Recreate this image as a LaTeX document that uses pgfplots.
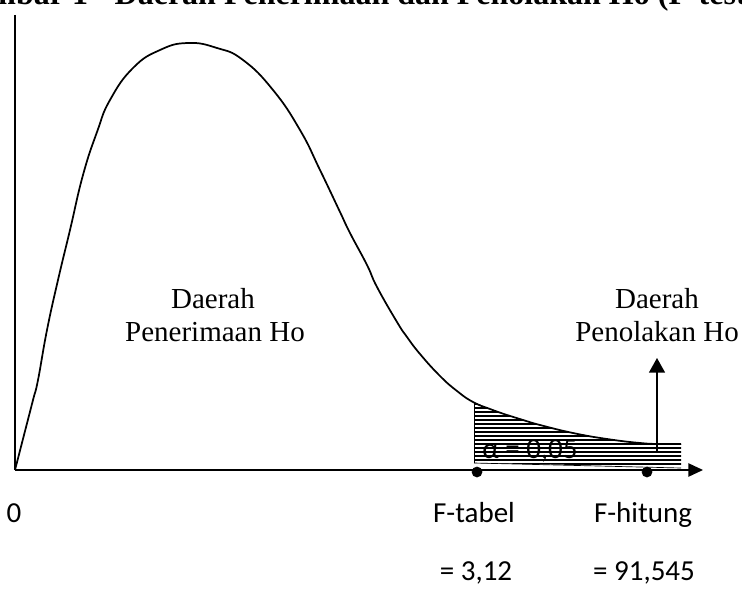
\documentclass[border=0pt]{standalone}
\usepackage{pgfplots}
\pgfplotsset{compat=1.18}
\usepackage{fontspec}
\setmainfont{Liberation Serif}
\newfontfamily\calib{Carlito}
\usetikzlibrary{patterns.meta,arrows.meta}
\newcommand\serifsz{\fontsize{21.75}{26}\selectfont}
\newcommand\sanssz{\calib\fontsize{21.75}{26}\selectfont}
\begin{document}
\begin{tikzpicture}
\useasboundingbox (0,0) rectangle (556.5pt,444pt);
\begin{axis}[at={(0,0)}, anchor=south west, scale only axis,
  width=556.5pt, height=444pt, xmin=0, xmax=742, ymin=0, ymax=592,
  y dir=reverse, hide axis, clip=false]
% shaded rejection area (alpha)
\addplot[draw=none, pattern={Lines[angle=0,distance=3pt,line width=0.9pt]}, pattern color=black]
  coordinates {(474,402) (490,409) (507,415) (523,420) (540,425) (573,433) (607,439) (640,443) (660,444) (681,444) (681,467) (474,463)} -- cycle;
\addplot[line width=0.6pt] coordinates {(474,402) (474,463)};
\addplot[line width=0.5pt] coordinates {(474,463) (681,468)};
% F distribution curve
\addplot[line width=1.3pt, smooth, tension=0.8] coordinates {
 (15,470) (24,435) (33,400) (38,380) (47,330) (58,280) (70,230) (83,175)
 (97,132) (110,100) (133,68) (160,50) (188,43) (217,48) (243,60) (273,90)
 (300,130) (320,170) (340,212) (350,233) (367,265) (377,287) (397,322)
 (407,337) (420,354) (440,376) (457,391) (473,402) (490,409) (507,415)
 (523,420) (540,425) (573,433) (607,439) (640,443) (660,444) (681,444)};
% axes
\addplot[line width=1.1pt] coordinates {(15,15) (15,470)};
\addplot[line width=1.1pt, -{Triangle[length=11pt,width=10pt]}] coordinates {(15,470) (703,470)};
% up arrow
\addplot[line width=1.1pt, -{Triangle[length=11pt,width=12pt]}] coordinates {(657,453) (657,358)};
% points
\addplot[only marks, mark=*, mark size=3.8pt, black] coordinates {(477,472) (647,472)};
% texts
\node[anchor=base west, font=\bfseries\fontsize{24}{28}\selectfont] at (axis cs:110,5)
  {\llap{Gambar 1 -\ }Daerah Penerimaan dan Penolakan Ho (F-test)};
\node[anchor=base, font=\serifsz] at (axis cs:213,308) {Daerah};
\node[anchor=base, font=\serifsz] at (axis cs:215,341) {Penerimaan Ho};
\node[anchor=base, font=\serifsz] at (axis cs:657,308) {Daerah};
\node[anchor=base, font=\serifsz] at (axis cs:657,341) {Penolakan Ho};
\node[anchor=base west, font=\sanssz, inner sep=0pt] at (axis cs:482,458) {α = 0,05};
\node[anchor=base, font=\sanssz] at (axis cs:14,522) {0};
\node[anchor=base, font=\sanssz] at (axis cs:474,522) {F-tabel};
\node[anchor=base, font=\sanssz] at (axis cs:643,522) {F-hitung};
\node[anchor=base, font=\sanssz] at (axis cs:476,580) {= 3,12};
\node[anchor=base, font=\sanssz] at (axis cs:644,580) {= 91,545};
\end{axis}
\end{tikzpicture}
\end{document}
